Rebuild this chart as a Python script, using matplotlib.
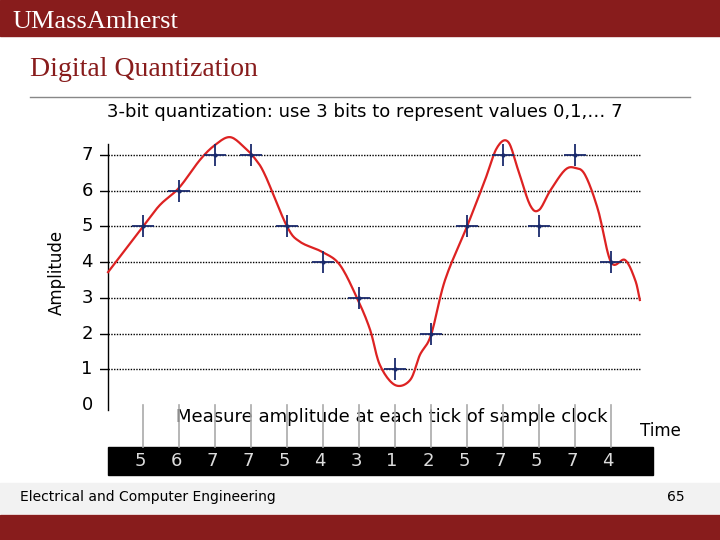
import numpy as np
import matplotlib.pyplot as plt
from matplotlib.patches import Rectangle

# sample clock ticks and quantized values
sample_x = list(range(1, 15))
sample_vals = [5, 6, 7, 7, 5, 4, 3, 1, 2, 5, 7, 5, 7, 4]

# analog signal
sig_x = [0.03, 0.5, 1.0, 1.47, 2.0, 2.58, 3.0, 3.42, 3.83, 4.11, 4.39, 5.0, 5.36, 5.97,
         6.47, 6.97, 7.31, 7.58, 8.0, 8.42, 8.69, 9.0, 9.39, 10.0, 10.5, 10.83, 11.14,
         11.42, 11.75, 12.0, 12.31, 12.72, 13.0, 13.28, 13.64, 14.0, 14.39, 14.67, 14.8]
sig_y = [3.72, 4.34, 5.0, 5.6, 6.08, 6.86, 7.28, 7.5, 7.2, 6.9, 6.44, 5.0, 4.57, 4.29,
         3.92, 2.94, 2.1, 1.12, 0.56, 0.7, 1.4, 1.96, 3.5, 5.0, 6.3, 7.2, 7.37,
         6.58, 5.6, 5.46, 6.0, 6.58, 6.64, 6.44, 5.46, 4.0, 4.06, 3.5, 2.94]

maroon = '#881c1c'

def smooth(x, y, n=12):
    # catmull-rom just for drawing a smooth line through the read points
    x = np.array(x); y = np.array(y)
    px = np.concatenate([[2*x[0]-x[1]], x, [2*x[-1]-x[-2]]])
    py = np.concatenate([[2*y[0]-y[1]], y, [2*y[-1]-y[-2]]])
    ox, oy = [], []
    t = np.linspace(0, 1, n, endpoint=False)
    for i in range(1, len(px)-2):
        for arr, out in ((px, ox), (py, oy)):
            p0, p1, p2, p3 = arr[i-1:i+3]
            out.extend(0.5*((2*p1) + (-p0+p2)*t + (2*p0-5*p1+4*p2-p3)*t**2 + (-p0+3*p1-3*p2+p3)*t**3))
    ox.append(x[-1]); oy.append(y[-1])
    return ox, oy

fig = plt.figure(figsize=(7.2, 5.4), dpi=100)
W, H = 720, 540
def fx(p): return p / W
def fy(p): return 1 - p / H

# banner and footer
fig.patches.append(Rectangle((0, fy(36)), 1, 36/H, transform=fig.transFigure, color=maroon))
fig.patches.append(Rectangle((0, 0), 1, 25/H, transform=fig.transFigure, color=maroon))
fig.patches.append(Rectangle((0, fy(513)), 1, 30/H, transform=fig.transFigure, color='#f2f2f2', zorder=0))
fig.text(fx(12), fy(22), 'UMassAmherst', color='white', fontsize=19, family='Liberation Serif', va='center')
fig.text(fx(30), fy(70), 'Digital Quantization', color=maroon, fontsize=20, family='Liberation Serif', va='center')
fig.lines.append(plt.Line2D([fx(30), fx(690)], [fy(97), fy(97)], transform=fig.transFigure, color='#888888', lw=1))
fig.text(fx(365), fy(112), '3-bit quantization: use 3 bits to represent values 0,1,… 7',
         fontsize=13, ha='center', va='center')
fig.text(fx(20), fy(497), 'Electrical and Computer Engineering', fontsize=10, va='center')
fig.text(fx(685), fy(497), '65', fontsize=10, ha='right', va='center')

ax = fig.add_axes([fx(100), fy(420), 560/W, 290/H])
ax.set_xlim(-0.194, 15.36)
ax.set_ylim(-0.42, 7.70)
ax.axis('off')

for lv in range(1, 8):
    ax.plot([0.03, 14.8], [lv, lv], color='black', lw=1, ls=(0, (1, 1)))
    ax.plot([-0.25, 0.03], [lv, lv], color='black', lw=1)
for lv in range(0, 8):
    ax.text(-0.55, lv, str(lv), fontsize=13, ha='center', va='center')
ax.plot([0.03, 0.03], [-0.15, 7.3], color='black', lw=1)
ax.text(-1.4, 3.7, 'Amplitude', rotation=90, fontsize=12, ha='center', va='center')

sx, sy = smooth(sig_x, sig_y)
ax.plot(sx, sy, color='#dd2222', lw=1.6)
ax.plot(sample_x, sample_vals, '+', color='#1a2a6c', ms=16, mew=1.3, zorder=5)
ax.plot(sample_x, sample_vals, '.', color='#1a2a6c', ms=4, zorder=6)

ax.text(7.9, -0.35, 'Measure amplitude at each tick of sample clock', fontsize=13, ha='center', va='center')

# sample clock ticks and the value strip
ax2 = fig.add_axes([0, 0, 1, 1], sharex=None)
ax2.set_xlim(0, W); ax2.set_ylim(H, 0); ax2.axis('off')
ax2.add_patch(Rectangle((108, 447), 545, 28, color='black'))
for i, v in zip(sample_x, sample_vals):
    px = 107 + 36*i
    ax2.plot([px, px], [405, 447], color='#aaaaaa', lw=1.2)
    ax2.text(px - 3, 461, str(v), color='#dddddd', fontsize=13, ha='center', va='center')
ax2.text(660, 431, 'Time', fontsize=12, ha='center', va='center')

fig.savefig('out.png', dpi=100)
